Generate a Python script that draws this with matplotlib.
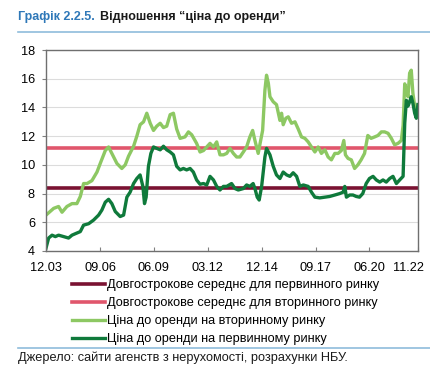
import matplotlib
matplotlib.use("Agg")
import matplotlib.pyplot as plt
import matplotlib.transforms as mtransforms
import pandas as pd

plt.rcParams['font.family'] = ['Liberation Sans', 'DejaVu Sans']

# Data: months elapsed since 12.2003 and the ratio values
start = pd.Timestamp("2003-12-01")

primary_months = [0.0, 1.6, 3.7, 5.7, 7.7, 10.8, 13.8, 15.9, 17.9, 21.0, 23.0, 26.1, 29.1, 32.2,
                  34.2, 36.3, 38.3, 40.3, 42.4, 45.4, 47.5, 49.5, 51.5, 53.6, 55.6, 57.6, 59.3,
                  60.3, 61.3, 62.7, 64.2, 65.8, 67.8, 69.9, 71.9, 73.9, 76.0, 78.0, 80.0, 82.1,
                  84.1, 86.1, 88.2, 90.2, 92.2, 94.3, 96.4, 98.4, 100.4, 102.5, 104.5, 106.5,
                  108.6, 110.6, 113.6, 115.7, 117.7, 120.8, 122.8, 124.8, 126.8, 127.9, 129.3,
                  130.5, 132.0, 134.0, 135.0, 137.1, 139.1, 141.1, 143.2, 145.2, 147.3, 149.3,
                  151.3, 153.4, 155.4, 157.5, 160.5, 162.5, 164.6, 167.6, 170.7, 173.7, 176.8,
                  179.8, 181.9, 182.9, 183.9, 185.9, 187.9, 189.9, 191.9, 193.9, 196.0, 198.0,
                  200.2, 202.2, 204.3, 206.3, 208.3, 210.4, 212.4, 214.5, 216.5, 218.6, 219.6,
                  220.6, 221.6, 222.6, 223.6, 224.6, 225.7, 226.7, 227.7]
primary_values = [4.2, 4.9, 5.1, 5.0, 5.1, 5.0, 4.9, 5.1, 5.2, 5.35, 5.8, 5.9, 6.15, 6.5,
                  6.85, 7.4, 7.6, 7.3, 6.75, 6.4, 6.5, 7.75, 8.1, 8.7, 9.05, 9.3, 8.5,
                  7.3, 7.75, 9.9, 10.8, 11.25, 11.15, 11.05, 11.3, 11.05, 10.9, 10.7, 9.9, 9.65,
                  9.75, 9.65, 9.75, 9.5, 8.95, 8.65, 8.7, 8.6, 9.2, 8.95, 8.5, 8.25,
                  8.5, 8.5, 8.7, 8.35, 8.25, 8.35, 8.6, 8.5, 8.7, 8.35, 7.75,
                  7.55, 8.5, 10.55, 11.15, 10.7, 9.9, 9.3, 9.05, 9.5, 9.3, 9.2,
                  9.45, 9.2, 8.5, 8.6, 8.5, 8.1, 7.75, 7.7, 7.75, 7.8, 7.9,
                  8.0, 8.1, 8.5, 7.75, 7.9, 7.9, 7.8, 7.75, 8.0, 8.7, 9.05,
                  9.2, 8.95, 8.8, 8.95, 8.8, 9.05, 9.2, 8.7, 8.95, 9.2, 12.9,
                  14.5, 14.1, 14.4, 14.75, 14.3, 13.6, 13.25, 14.2]

secondary_months = [0.0, 4.7, 7.7, 9.8, 12.8, 15.9, 18.9, 21.0, 23.0, 25.1, 28.1, 31.2, 33.2,
                    36.3, 38.3, 40.3, 43.4, 46.4, 48.5, 50.5, 53.6, 55.6, 57.6, 59.7, 61.7,
                    63.8, 65.8, 67.8, 69.9, 71.9, 73.9, 76.0, 78.0, 80.0, 82.1, 85.1, 87.2,
                    89.2, 92.2, 94.3, 96.4, 98.4, 100.4, 102.5, 104.5, 106.5, 108.6, 110.6,
                    112.6, 114.7, 116.7, 118.7, 120.8, 122.8, 124.8, 126.5, 127.9, 129.9,
                    130.9, 132.6, 134.0, 135.0, 136.1, 137.1, 139.1, 141.1, 143.2, 144.2,
                    145.2, 146.8, 148.3, 150.3, 152.4, 154.4, 156.4, 158.5, 160.5, 162.5,
                    164.6, 166.6, 168.6, 170.7, 172.7, 174.7, 176.8, 178.8, 180.8, 182.3,
                    183.3, 184.9, 186.9, 188.9, 190.9, 192.9, 195.0, 197.0, 199.0, 201.2,
                    203.2, 205.3, 207.3, 209.4, 211.4, 213.4, 215.5, 217.5, 218.6, 219.6,
                    220.6, 221.6, 222.6, 223.6, 224.6, 225.7, 226.7, 227.7]
secondary_values = [6.5, 6.97, 7.1, 6.7, 7.1, 7.3, 7.3, 7.8, 8.7, 8.7, 8.9, 9.5, 10.1,
                    11.0, 11.25, 10.8, 10.1, 9.75, 10.0, 10.6, 11.3, 12.0, 12.8, 13.0, 13.6,
                    12.9, 12.4, 12.7, 12.9, 12.6, 12.7, 13.5, 13.6, 12.5, 11.85, 11.95, 12.3,
                    12.1, 11.5, 10.9, 11.0, 11.25, 11.5, 11.25, 11.6, 10.7, 10.7, 10.8,
                    11.15, 10.8, 10.55, 10.55, 10.9, 11.25, 11.95, 12.4, 11.7, 10.8,
                    11.4, 12.4, 15.2, 16.25, 15.7, 14.75, 14.4, 14.2, 13.1, 13.6,
                    12.8, 13.25, 13.35, 12.9, 13.0, 12.5, 11.95, 11.85, 11.6, 11.25,
                    10.9, 11.25, 10.8, 11.05, 10.55, 10.35, 10.8, 10.8, 11.0, 11.7,
                    10.7, 10.45, 10.35, 9.75, 10.0, 10.35, 10.8, 12.05, 11.85, 11.95,
                    12.05, 12.3, 12.3, 12.2, 11.85, 11.4, 11.5, 11.7, 12.75, 15.65,
                    15.2, 14.75, 16.4, 16.6, 15.0, 14.1, 13.5, 14.2]

avg_primary = 8.4
avg_secondary = 11.2

tick_dates = ["2003-12-01", "2006-09-01", "2009-06-01", "2012-03-01",
              "2014-12-01", "2017-09-01", "2020-06-01"]
tick_labels = ["12.03", "09.06", "06.09", "03.12", "12.14", "09.17", "06.20", "11.22"]

labels = ["Довгострокове середнє для первинного ринку",
          "Довгострокове середнє для вторинного ринку",
          "Ціна до оренди на вторинному ринку",
          "Ціна до оренди на первинному ринку"]


def to_dates(months):
    return start + pd.to_timedelta([m * 30.44 for m in months], unit="D")


prim_x = to_dates(primary_months)
sec_x = to_dates(secondary_months)
end = prim_x[-1]

fs = 9.2
fig = plt.figure(figsize=(4.3, 3.74), dpi=100)
ax = fig.add_axes([0.107, 0.329, 0.865, 0.537])

# long-term averages first, series on top
l1 = ax.axhline(avg_primary, color="#7a1232", lw=2.6)
l2 = ax.axhline(avg_secondary, color="#e0566c", lw=2.6)
l3, = ax.plot(sec_x, secondary_values, color="#8dc863", lw=2.4)
l4, = ax.plot(prim_x, primary_values, color="#0f7a3b", lw=2.4)

ax.set_xlim(start, end)
ax.set_ylim(4, 18)
ax.set_yticks(range(4, 19, 2))
ax.grid(axis="y", color="#dcdcdc", lw=0.8)
ax.set_axisbelow(True)

ticks = list(pd.to_datetime(tick_dates)) + [end]
ax.set_xticks(ticks)
ax.set_xticklabels(tick_labels)
ax.tick_params(axis="x", direction="in", length=3, color="#808080", labelsize=fs, pad=8)
ax.tick_params(axis="y", direction="out", length=3, color="#808080", labelsize=fs, pad=5)
for s in ax.spines.values():
    s.set_color("#6f6f6f")
    s.set_linewidth(1.0)

# last date label sits a little left of the right edge
last = ax.get_xticklabels()[-1]
last.set_transform(last.get_transform() +
                   mtransforms.ScaledTranslation(-0.09, 0, fig.dpi_scale_trans))

# title
fig.text(18 / 430, 1 - 17 / 374, "Графік 2.2.5.", color="#2f78b8", fontsize=9,
         fontweight="bold", va="center", ha="left")
fig.text(100 / 430, 1 - 17 / 374, "Відношення “ціна до оренди”", color="#1a1a1a",
         fontsize=9, fontweight="bold", va="center", ha="left")
fig.add_artist(plt.Line2D([18 / 430, 1], [1 - 32 / 374] * 2, color="#8fbcdb", lw=1.2))

# legend
fig.legend([l1, l2, l3, l4], labels, loc="upper left", bbox_to_anchor=(72 / 430, 1 - 279 / 374),
           frameon=False, fontsize=fs, handlelength=2.6, handletextpad=0.15,
           labelspacing=0.47, borderaxespad=0, borderpad=0)

# source
fig.add_artist(plt.Line2D([18 / 430, 1], [1 - 348 / 374] * 2, color="#8fbcdb", lw=1.2))
fig.text(18 / 430, 1 - 358 / 374, "Джерело: сайти агенств з нерухомості, розрахунки НБУ.",
         fontsize=fs, va="center", ha="left", color="#1a1a1a")

fig.savefig("out.png", dpi=100)
